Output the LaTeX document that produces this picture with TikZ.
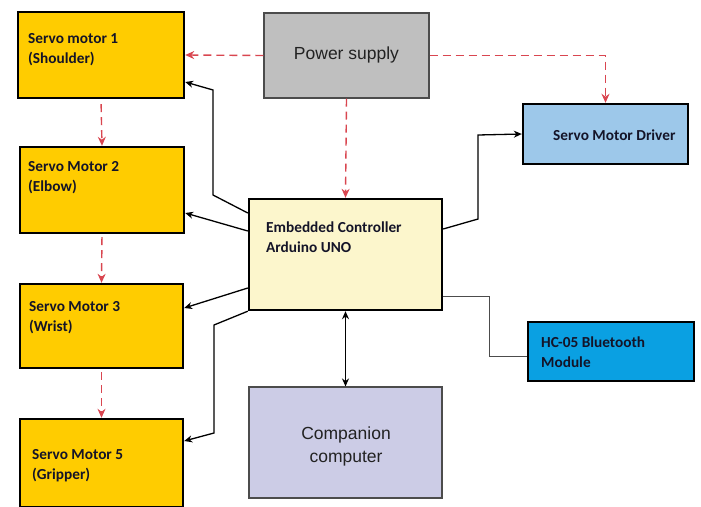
\documentclass[tikz,border=0pt]{standalone}
\usepackage{fontspec}
\setmainfont{Carlito}
\newfontfamily\plainsans{Liberation Sans}
\usetikzlibrary{arrows.meta,calc}

\definecolor{servoyellow}{HTML}{FFCC00}
\definecolor{psgrey}{HTML}{BFBFBF}
\definecolor{drvblue}{HTML}{9DC8EA}
\definecolor{ctrlcream}{HTML}{FCF6CC}
\definecolor{hcblue}{HTML}{0AA0E2}
\definecolor{complav}{HTML}{CCCCE6}
\definecolor{powerred}{HTML}{D94650}
\definecolor{labelink}{HTML}{141428}
\definecolor{softink}{HTML}{222222}

\tikzset{
  heavybox/.style={draw=black, line width=2.4pt, inner sep=0pt},
  lightbox/.style={draw=black!70, line width=1.1pt, inner sep=0pt},
  boldlabel/.style={inner sep=0pt, anchor=west, align=left, text=labelink,
    font=\fontsize{15.3}{20}\selectfont\bfseries},
  plainlabel/.style={inner sep=0pt, align=center, text=softink,
    font=\plainsans\fontsize{17.5}{23}\selectfont},
  power/.style={draw=powerred, line width=1.4pt, dash pattern=on 8pt off 5pt,
    -{Stealth[length=9pt,width=8pt]}},
  signal/.style={draw=black, line width=1.3pt, line join=miter,
    -{Stealth[length=8pt,width=7pt]}},
  bothways/.style={draw=black, line width=1.3pt,
    {Stealth[length=8pt,width=7pt]}-{Stealth[length=8pt,width=7pt]}},
  wire/.style={draw=black!70, line width=1pt},
}

\begin{document}
\begin{tikzpicture}[x=1pt, y=-1pt]
\useasboundingbox (0,0) rectangle (701,506);

% servo column
\node[heavybox, fill=servoyellow, minimum width=166pt, minimum height=86pt] (s1) at (101,55) {};
\node[heavybox, fill=servoyellow, minimum width=164pt, minimum height=86pt] (s2) at (102,190) {};
\node[heavybox, fill=servoyellow, minimum width=163pt, minimum height=84pt] (s3) at (101.5,326) {};
\node[heavybox, fill=servoyellow, minimum width=163pt, minimum height=88pt] (s5) at (101.5,463) {};

\node[boldlabel] (t1) at (28,50) {Servo motor 1\\(Shoulder)};
\node[boldlabel] (t2) at (28,178) {Servo Motor 2\\(Elbow)};
\node[boldlabel] (t3) at (29,317.5) {Servo Motor 3\\(Wrist)};
\node[boldlabel] (t5) at (32,465.5) {Servo Motor 5\\(Gripper)};

% supply, controller, peripherals
\node[lightbox, fill=psgrey, minimum width=165pt, minimum height=85pt] (ps) at (346.5,55.5) {};
\node[plainlabel] (tps) at (346.5,55) {Power supply};

\node[heavybox, fill=drvblue, minimum width=165pt, minimum height=60pt] (drv) at (605.5,134) {};
\node[boldlabel] (tdrv) at (553,135) {Servo Motor Driver};

\node[heavybox, fill=ctrlcream, minimum width=193pt, minimum height=111pt] (ctrl) at (345.5,254.5) {};
\node[boldlabel] (tctrl) at (266,237) {Embedded Controller\\Arduino UNO};

\node[heavybox, fill=hcblue, minimum width=166pt, minimum height=59pt] (hc) at (611,351.5) {};
\node[boldlabel] (thc) at (541,352) {HC-05 Bluetooth\\Module};

\node[lightbox, fill=complav, minimum width=193pt, minimum height=111pt] (comp) at (345.5,442.5) {};
\node[plainlabel] (tcomp) at (346,446.5) {Companion\\computer};

% power distribution
\draw[power] (ps.west) -- (s1.east);
\draw[power] (ps.east) -| (drv.north);
\draw[power] (ps.south) -- (ctrl.north);
\draw[power, shorten <=5pt] (s1.south) -- (s2.north);
\draw[power, shorten <=3pt] (s2.south) -- (s3.north);
\draw[power, shorten <=3pt] (s3.south) -- (s5.north);

% control signals
\draw[signal] ([yshift=41.5pt]ctrl.west) -- (213,195) -- (213,90) -- ([yshift=-27pt]s1.east);
\draw[signal] ([yshift=23.5pt]ctrl.west) -- ([yshift=-23pt]s2.east);
\draw[signal] ([yshift=-33.5pt]ctrl.west) -- ([yshift=18pt]s3.east);
\draw[signal] (ctrl.south west) -- (214,325) -- (214,433) -- ([yshift=22pt]s5.east);
\draw[signal] ([yshift=25.5pt]ctrl.east) -- (478,219) -- (478,135) -- (drv.west);
\draw[wire] ([yshift=-41.5pt]ctrl.east) -- (489,296) -- (489,356) -- ([yshift=-4.5pt]hc.west);
\draw[bothways] (ctrl.south) -- (comp.north);
\end{tikzpicture}
\end{document}
